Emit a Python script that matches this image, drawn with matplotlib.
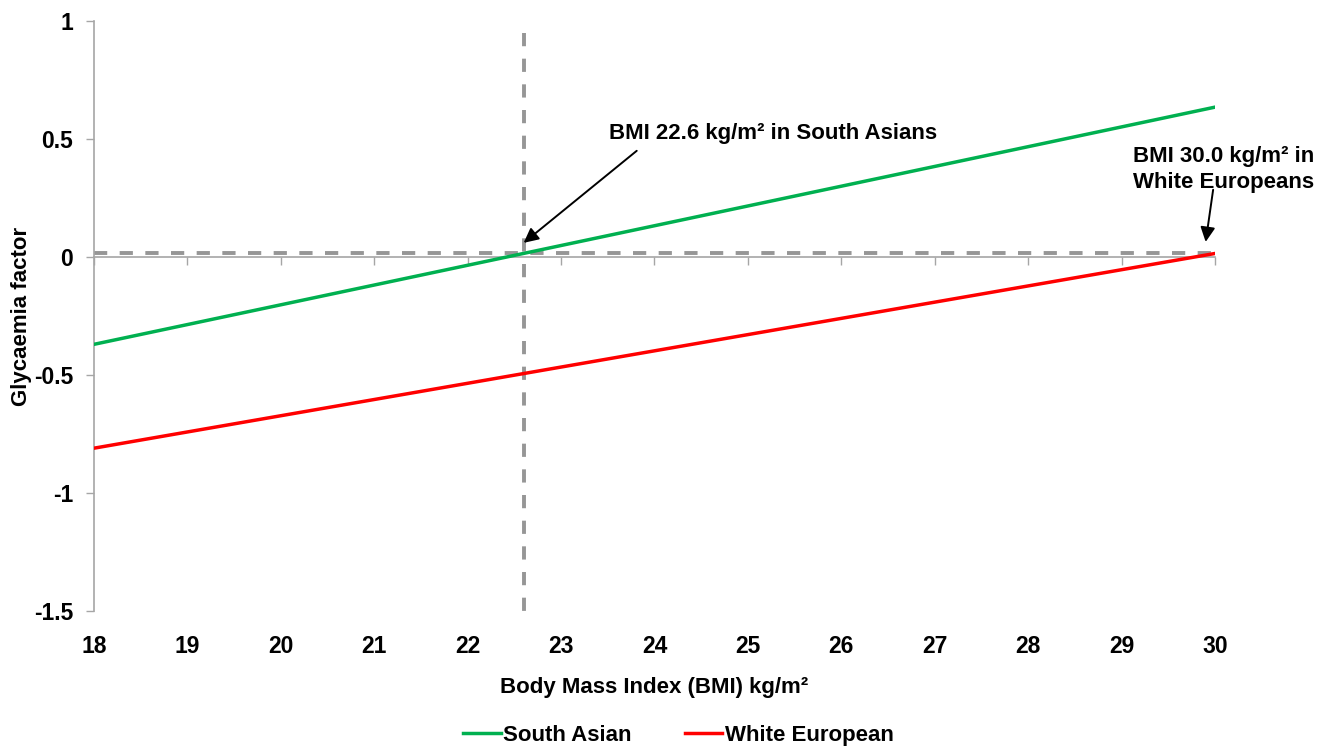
import matplotlib.pyplot as plt

plt.rcParams['font.family'] = ['Liberation Sans', 'DejaVu Sans']
plt.rcParams['font.weight'] = 'bold'

# data
bmi = [18, 30]
south_asian = [-0.37, 0.635]
white_european = [-0.81, 0.015]
cutoff_bmi = 22.6
cutoff_level = 0.017
x_ticks = list(range(18, 31))
y_ticks = [1, 0.5, 0, -0.5, -1, -1.5]
y_tick_labels = ['1', '0.5', '0', '-0.5', '-1', '-1.5']

fig = plt.figure(figsize=(13.27, 7.47), dpi=100)
ax = fig.add_axes([0.0708, 0.182, 0.8448, 0.7899])

grey = '#a6a6a6'
dash_grey = '#969696'

ax.plot(bmi, [cutoff_level, cutoff_level], color=dash_grey, lw=2.8, dashes=(3.4, 3.2), zorder=2)
ax.plot([cutoff_bmi, cutoff_bmi], [0.95, -1.51], color=dash_grey, lw=2.8, dashes=(3.4, 3.2),
        zorder=2, clip_on=False)

ax.plot(bmi, south_asian, color='#00b050', lw=2.5, label='South Asian', zorder=3)
ax.plot(bmi, white_european, color='#ff0000', lw=2.5, label='White European', zorder=3)

ax.set_xlim(18, 30)
ax.set_ylim(-1.5, 1)

for s in ['top', 'right']:
    ax.spines[s].set_visible(False)
ax.spines['left'].set_color(grey)
ax.spines['left'].set_linewidth(1.2)
ax.spines['bottom'].set_position(('data', 0))
ax.spines['bottom'].set_color(grey)
ax.spines['bottom'].set_linewidth(1.2)
ax.spines['bottom'].set_zorder(1)

ax.set_yticks(y_ticks)
ax.set_yticklabels(y_tick_labels)
ax.tick_params(axis='y', direction='out', length=6, width=1, color=grey,
               labelsize=16.5, pad=9)
ax.set_xticks(x_ticks)
ax.tick_params(axis='x', direction='out', length=6, width=1, color=grey, labelbottom=False)

sec = ax.secondary_xaxis('bottom')
sec.spines['bottom'].set_visible(False)
sec.set_xticks(x_ticks)
sec.set_xticklabels([str(t) for t in x_ticks])
sec.tick_params(axis='x', length=0, labelsize=16.5, pad=17)
sec.set_xlabel('Body Mass Index (BMI) kg/m²', fontsize=16, fontweight='bold', labelpad=14)

ax.set_ylabel('Glycaemia factor', fontsize=16, fontweight='bold')
ax.yaxis.set_label_coords(-0.055, 0.5)

arrow = dict(arrowstyle='-|>', color='black', lw=1.4, shrinkA=0, shrinkB=0,
             mutation_scale=22)
ax.annotate('', xy=(22.6, 0.06), xytext=(23.81, 0.45), arrowprops=arrow)
ax.text(25.27, 0.525, 'BMI 22.6 kg/m² in South Asians', ha='center', va='center',
        fontsize=16, fontweight='bold')
ax.annotate('', xy=(29.9, 0.064), xytext=(29.98, 0.285), arrowprops=arrow)
ax.text(29.12, 0.37, 'BMI 30.0 kg/m² in\nWhite Europeans', ha='left', va='center',
        fontsize=16, fontweight='bold', linespacing=1.3)

fig.legend(loc='lower center', bbox_to_anchor=(0.511, -0.025), ncol=2, frameon=False,
           fontsize=16, handlelength=1.7, handletextpad=0.1, columnspacing=2.4)

fig.savefig('out.png', dpi=100)
